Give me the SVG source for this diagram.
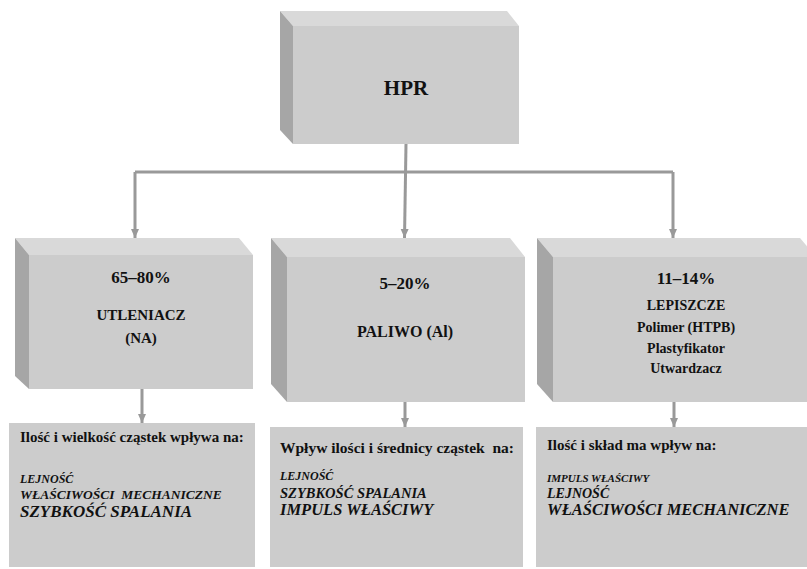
<svg xmlns="http://www.w3.org/2000/svg" width="807" height="569" viewBox="0 0 807 569">
<style>
.top{fill:#d9d9d9}
.front{fill:#cccccc}
.side{fill:#a6a6a6}
.plain{fill:#cccccc}
.t{font-family:"Liberation Serif","Times New Roman",serif;font-weight:bold;fill:#111}
.c{text-anchor:middle}
.i{font-style:italic}
.con{stroke:#999;stroke-width:3;fill:none}
</style>
<defs>
<marker id="ah" markerUnits="userSpaceOnUse" markerWidth="10" markerHeight="10" viewBox="0 0 10 10" refX="9" refY="5" orient="auto">
<path d="M0,1 L9,5 L0,9 Z" fill="#999"/>
</marker>
</defs>
<rect width="807" height="569" fill="#ffffff"/>
<g id="connectors">
<path class="con" d="M406,144 L404.5,238" marker-end="url(#ah)"/>
<path class="con" d="M135,172 H673"/>
<path class="con" d="M135,172 V238" marker-end="url(#ah)"/>
<path class="con" d="M673,172 V238" marker-end="url(#ah)"/>
<path class="con" d="M142,389 V423" marker-end="url(#ah)"/>
<path class="con" d="M405,402 V427" marker-end="url(#ah)"/>
<path class="con" d="M674,402 V427" marker-end="url(#ah)"/>
</g>
<g id="hpr">
<polygon class="top" points="280,11 507,11 519,26 293,26"/>
<polygon class="side" points="280,11 293,26 293,144 280,130"/>
<rect class="front" x="293" y="26" width="226" height="118"/>
<text class="t c" x="406" y="95" font-size="21">HPR</text>
</g>
<g id="utleniacz">
<polygon class="top" points="15,238 239,238 253,255 29,255"/>
<polygon class="side" points="15,238 29,255 29,389 15,376"/>
<rect class="front" x="29" y="255" width="224" height="134"/>
<text class="t c" x="141" y="283" font-size="17">65–80%</text>
<text class="t c" x="141" y="320" font-size="15">UTLENIACZ</text>
<text class="t c" x="141" y="343" font-size="15">(NA)</text>
</g>
<g id="paliwo">
<polygon class="top" points="271,238 510,238 525,257 287,257"/>
<polygon class="side" points="271,238 287,257 287,402 271,384"/>
<rect class="front" x="287" y="257" width="238" height="145"/>
<text class="t c" x="405" y="289" font-size="17">5–20%</text>
<text class="t c" x="405" y="337" font-size="16">PALIWO (Al)</text>
</g>
<g id="lepiszcze">
<polygon class="top" points="537,238 800,238 816,257 553,257"/>
<polygon class="side" points="537,238 553,257 553,402 537,384"/>
<rect class="front" x="553" y="257" width="263" height="145"/>
<text class="t c" x="686" y="284" font-size="17">11–14%</text>
<text class="t c" x="686" y="310" font-size="14">LEPISZCZE</text>
<text class="t c" x="686" y="332" font-size="14">Polimer (HTPB)</text>
<text class="t c" x="686" y="353" font-size="14">Plastyfikator</text>
<text class="t c" x="686" y="373" font-size="14">Utwardzacz</text>
</g>
<g id="wplyw1">
<rect class="plain" x="9" y="423" width="246" height="144"/>
<text class="t" x="20" y="442" font-size="15">Ilość i wielkość cząstek wpływa na:</text>
<text class="t i" x="20" y="483" font-size="12">LEJNOŚĆ</text>
<text class="t i" x="20" y="499" font-size="13.5" xml:space="preserve">WŁAŚCIWOŚCI  MECHANICZNE</text>
<text class="t i" x="20" y="517" font-size="17">SZYBKOŚĆ SPALANIA</text>
</g>
<g id="wplyw2">
<rect class="plain" x="270" y="427" width="253" height="140"/>
<text class="t" x="280" y="453" font-size="15.5" xml:space="preserve">Wpływ ilości i średnicy cząstek  na:</text>
<text class="t i" x="280" y="480" font-size="12">LEJNOŚĆ</text>
<text class="t i" x="280" y="498" font-size="14.5">SZYBKOŚĆ SPALANIA</text>
<text class="t i" x="280" y="515" font-size="16.5">IMPULS WŁAŚCIWY</text>
</g>
<g id="wplyw3">
<rect class="plain" x="536" y="427" width="280" height="140"/>
<text class="t" x="547" y="450" font-size="15">Ilość i skład ma wpływ na:</text>
<text class="t i" x="547" y="482" font-size="11">IMPULS WŁAŚCIWY</text>
<text class="t i" x="547" y="498" font-size="14">LEJNOŚĆ</text>
<text class="t i" x="547" y="515" font-size="16.5">WŁAŚCIWOŚCI MECHANICZNE</text>
</g>
</svg>
